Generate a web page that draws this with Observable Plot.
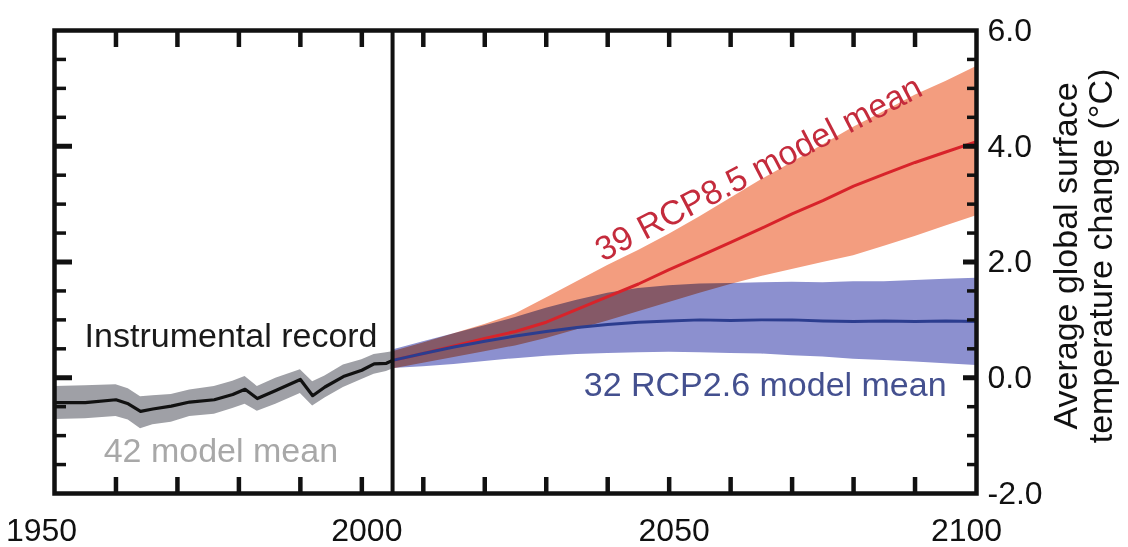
<!DOCTYPE html>
<html><head><meta charset="utf-8">
<script src="https://cdn.jsdelivr.net/npm/d3@7"></script>
<script src="https://cdn.jsdelivr.net/npm/@observablehq/plot@0.6"></script>
<style>html,body{margin:0;padding:0;background:#fff;}</style>
</head><body><div id="chart"></div>
<script>
// ---- Historical (42 model mean / instrumental record) ----
const histYears = [1950,1955,1960,1962,1964,1966,1969,1972,1976,1979,1981,1983,1986,1990,1992,1994,1997,2000,2002,2004,2005];
const histMean  = [-0.43,-0.43,-0.38,-0.45,-0.58,-0.54,-0.49,-0.42,-0.38,-0.29,-0.20,-0.36,-0.22,-0.03,-0.31,-0.16,0.02,0.13,0.24,0.25,0.30];
const histHi    = [-0.15,-0.14,-0.12,-0.19,-0.33,-0.31,-0.29,-0.21,-0.15,-0.06,0.02,-0.15,-0.01,0.14,-0.07,0.03,0.22,0.31,0.40,0.43,0.45];
const histLo    = [-0.72,-0.71,-0.67,-0.73,-0.88,-0.81,-0.77,-0.67,-0.63,-0.53,-0.46,-0.58,-0.46,-0.27,-0.49,-0.35,-0.17,-0.03,0.06,0.11,0.15];

// ---- Projections ----
const projYears = [2005,2010,2015,2020,2025,2030,2035,2040,2045,2050,2055,2060,2065,2070,2075,2080,2085,2090,2095,2100];
const rcp85Mean = [0.30,0.42,0.55,0.68,0.80,0.96,1.18,1.40,1.62,1.87,2.10,2.34,2.58,2.83,3.06,3.31,3.52,3.72,3.90,4.08];
const rcp85Hi   = [0.45,0.60,0.76,0.92,1.10,1.38,1.66,1.94,2.20,2.48,2.78,3.10,3.42,3.72,4.02,4.33,4.60,4.88,5.12,5.38];
const rcp85Lo   = [0.15,0.25,0.35,0.45,0.55,0.68,0.83,0.98,1.14,1.30,1.46,1.61,1.75,1.87,1.99,2.11,2.27,2.44,2.62,2.80];
const rcp26Mean = [0.30,0.42,0.53,0.63,0.72,0.80,0.87,0.92,0.96,0.98,1.00,0.99,1.00,1.00,0.98,0.97,0.98,0.97,0.98,0.97];
const rcp26Hi   = [0.48,0.62,0.76,0.90,1.04,1.20,1.34,1.46,1.54,1.59,1.62,1.63,1.64,1.65,1.64,1.66,1.66,1.68,1.70,1.72];
const rcp26Lo   = [0.16,0.19,0.23,0.28,0.33,0.37,0.40,0.42,0.43,0.44,0.43,0.42,0.41,0.38,0.36,0.32,0.30,0.27,0.24,0.21];

// ---- Axes ----
const xTickValues = [1950, 2000, 2050, 2100];
const xTickLabels = ["1950", "2000", "2050", "2100"];
const decadeTicks = [1960,1970,1980,1990,2000,2010,2020,2030,2040,2050,2060,2070,2080,2090];
const yTickValues = [-2, 0, 2, 4, 6];
const yTickLabels = ["-2.0", "0.0", "2.0", "4.0", "6.0"];
const yMajorTicks = [0, 2, 4];
const yMinorTicks = [-1.5,-1,-0.5,0.5,1,1.5,2.5,3,3.5,4.5,5,5.5];
const splitYear = [2005];
const yTitleLines = ["Average global surface", "temperature change (°C)"];

// ---- Annotations ----
const annoText   = ["Instrumental record", "42 model mean", "32 RCP2.6 model mean", "39 RCP8.5 model mean"];
const annoYear   = [1954.9, 1958.0, 2036.1, 2039.2];
const annoValue  = [0.535, -1.46, -0.31, 2.0];
const annoColor  = ["#1a1a1a", "#a8a8a8", "#44508f", "#c42b3c"];
const annoRotate = [0, 0, 0, -27.5];

const hist = histYears.map((year, i) => ({year, mean: histMean[i], lo: histLo[i], hi: histHi[i]}));
const proj = projYears.map((year, i) => ({year,
  m85: rcp85Mean[i], lo85: rcp85Lo[i], hi85: rcp85Hi[i],
  m26: rcp26Mean[i], lo26: rcp26Lo[i], hi26: rcp26Hi[i]}));
const annos = annoText.map((text, i) => ({text, year: annoYear[i], value: annoValue[i], color: annoColor[i], rotate: annoRotate[i]}));

const ink = "#111";
const xLabelShift = [-13, 5, 5, -10];
const chart = Plot.plot({
  width: 1128, height: 547,
  marginLeft: 54, marginRight: 152, marginTop: 30, marginBottom: 54,
  style: {fontFamily: "'Liberation Sans', Arial, sans-serif", background: "#fff", overflow: "visible"},
  x: {domain: [1950, 2100]},
  y: {domain: [-2, 6]},
  marks: [
    Plot.areaY(hist, {x: "year", y1: "lo", y2: "hi", fill: "#9fa0a6"}),
    Plot.areaY(proj, {x: "year", y1: "lo85", y2: "hi85", fill: "#f39d7f"}),
    Plot.areaY(proj, {x: "year", y1: "lo26", y2: "hi26", fill: "#8c90cf", mixBlendMode: "multiply"}),
    Plot.lineY(hist, {x: "year", y: "mean", stroke: ink, strokeWidth: 3.2}),
    Plot.lineY(proj, {x: "year", y: "m85", stroke: "#d8232a", strokeWidth: 3}),
    Plot.lineY(proj, {x: "year", y: "m26", stroke: "#2c3d8f", strokeWidth: 3}),
    Plot.ruleX(splitYear, {stroke: ink, strokeWidth: 4}),
    Plot.frame({stroke: ink, strokeWidth: 4.5}),
    // inward ticks
    Plot.axisX(decadeTicks, {anchor: "bottom", frameAnchor: "top", tickSize: 17, strokeWidth: 4.5, stroke: ink, fill: "none", label: null}),
    Plot.axisX(decadeTicks, {anchor: "top", frameAnchor: "bottom", tickSize: 17, strokeWidth: 4.5, stroke: ink, fill: "none", label: null}),
    Plot.axisY(yMinorTicks, {anchor: "right", frameAnchor: "left", tickSize: 11, strokeWidth: 3.5, stroke: ink, fill: "none", label: null}),
    Plot.axisY(yMajorTicks, {anchor: "right", frameAnchor: "left", tickSize: 17, strokeWidth: 5, stroke: ink, fill: "none", label: null}),
    Plot.axisY(yMinorTicks, {anchor: "left", frameAnchor: "right", tickSize: 9, strokeWidth: 3.5, stroke: ink, fill: "none", label: null}),
    Plot.axisY(yMajorTicks, {anchor: "left", frameAnchor: "right", tickSize: 13, strokeWidth: 5, stroke: ink, fill: "none", label: null}),
    // tick labels
    ...xTickValues.map((v, i) => Plot.axisX([v], {anchor: "bottom", tickSize: 0, tickPadding: 25, fontSize: 32, fill: ink,
      dx: xLabelShift[i], tickFormat: () => xTickLabels[i], label: null})),
    Plot.axisY(yTickValues, {anchor: "right", tickSize: 0, tickPadding: 11, fontSize: 32, fill: ink,
      tickFormat: d => yTickLabels[yTickValues.indexOf(d)], label: null}),
    // y title
    Plot.text([yTitleLines.join("\n")], {frameAnchor: "right", text: d => d, rotate: -90, dx: 76, dy: -6,
      lineAnchor: "top", textAnchor: "middle", fontSize: 34, lineHeight: 1.03, fill: ink}),
    // annotations
    Plot.text(annos, {x: "year", y: "value", text: "text", fill: "color", rotate: "rotate",
      textAnchor: "start", lineAnchor: "bottom", fontSize: 34})
  ]
});
document.getElementById("chart").appendChild(chart);
</script>
</body></html>
